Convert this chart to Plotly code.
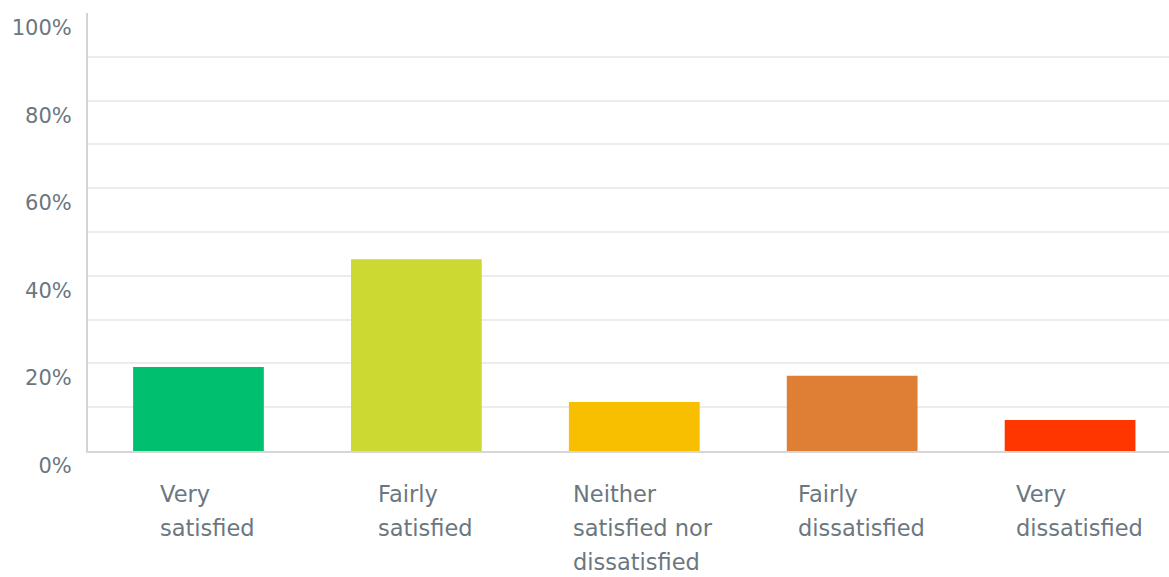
import plotly.graph_objects as go

# Survey responses: share of respondents per satisfaction level
categories = ["Very satisfied", "Fairly satisfied", "Neither satisfied nor dissatisfied",
              "Fairly dissatisfied", "Very dissatisfied"]
label_lines = [["Very", "satisfied"],
               ["Fairly", "satisfied"],
               ["Neither", "satisfied nor", "dissatisfied"],
               ["Fairly", "dissatisfied"],
               ["Very", "dissatisfied"]]
percentages = [19.2, 43.8, 11.2, 17.2, 7.1]
bar_colors = ["#00bf6f", "#ccd932", "#f8be00", "#df7e35", "#ff3600"]
y_ticks = [0, 20, 40, 60, 80, 100]
y_tick_text = ["0%", "20%", "40%", "60%", "80%", "100%"]
grid_values = [10, 20, 30, 40, 50, 60, 70, 80, 90]

TEXT_COLOR = "#6b7780"
FONT = "DejaVu Sans"

fig = go.Figure(
    go.Bar(
        x=categories,
        y=percentages,
        width=0.6,
        marker=dict(color=bar_colors, line=dict(width=0)),
        hoverinfo="skip",
    )
)

# Multi-line category labels, left-aligned inside a centred block
for cat, lines in zip(categories, label_lines):
    text = "<br>".join(f"<span style='font-size:22.5px'>{ln}</span>" for ln in lines)
    fig.add_annotation(
        x=cat, xref="x", y=0, yref="paper",
        xanchor="center", yanchor="top", align="left",
        xshift=9, yshift=-28,
        text=text, showarrow=False,
        font=dict(family=FONT, size=26, color=TEXT_COLOR),
    )

fig.update_layout(
    width=1169, height=577,
    margin=dict(l=88, r=0, t=13, b=126),
    paper_bgcolor="white", plot_bgcolor="white",
    showlegend=False,
    bargap=0.4,
    xaxis=dict(
        range=[-0.507, 4.454],
        showticklabels=False, ticks="",
        showgrid=False, zeroline=False,
        showline=True, linecolor="#d6d6d6", linewidth=2,
        fixedrange=True,
    ),
    yaxis=dict(
        range=[0, 100],
        tickmode="array", tickvals=y_ticks, ticktext=y_tick_text,
        ticks="", ticklabelposition="outside bottom", ticklabelstandoff=10,
        tickfont=dict(family=FONT, size=21, color=TEXT_COLOR),
        showgrid=False, zeroline=False,
        showline=True, linecolor="#d4d4d4", linewidth=2,
        minor=dict(tickmode="array", tickvals=grid_values, showgrid=True,
                   gridcolor="#ececec", gridwidth=1.5, ticks=""),
        fixedrange=True,
    ),
)

fig.write_html("out.html")
